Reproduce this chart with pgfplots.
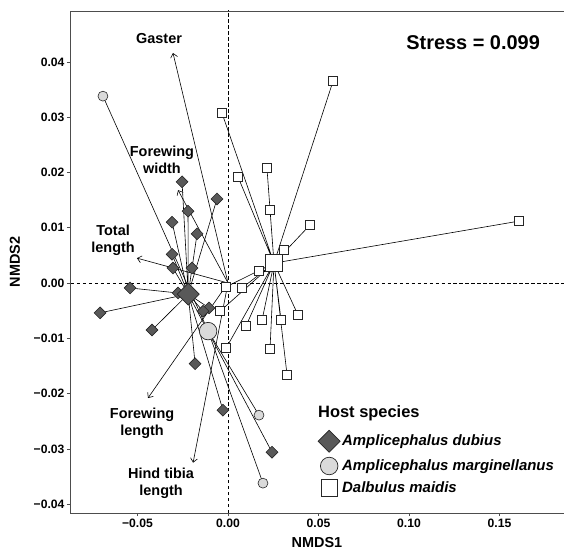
\documentclass[border=0pt]{standalone}
\usepackage{fontspec}
\setmainfont{Liberation Sans}
\usepackage{pgfplots}
\pgfplotsset{compat=1.18}
\usetikzlibrary{arrows.meta}
\definecolor{dubfill}{HTML}{595959}
\definecolor{marfill}{HTML}{DADADA}
\definecolor{framec}{HTML}{4D4D4D}
\definecolor{edgec}{HTML}{262626}

\begin{document}
\begin{tikzpicture}
\begin{axis}[
  scale only axis, width=494bp, height=502bp,
  xmin=-0.0873, xmax=0.1856, ymin=-0.0416, ymax=0.0492,
  axis line style={framec, line width=0.9pt},
  xtick={-0.05,0,0.05,0.10,0.15},
  xticklabels={−0.05,0.00,0.05,0.10,0.15},
  ytick={-0.04,-0.03,-0.02,-0.01,0,0.01,0.02,0.03,0.04},
  yticklabels={−0.04,−0.03,−0.02,−0.01,0.00,0.01,0.02,0.03,0.04},
  tick pos=left, tick align=outside, major tick length=3bp,
  tick style={framec, line width=0.6pt},
  ticklabel style={font=\bfseries\fontsize{12.2}{14}\selectfont, black},
  xticklabel style={yshift=1pt},
  yticklabel style={xshift=1pt},
  xlabel={NMDS1}, ylabel={NMDS2},
  label style={font=\bfseries\fontsize{14.5}{16}\selectfont},
  xlabel style={at={(axis description cs:0.5,-0.0598)}, anchor=center},
  ylabel style={at={(axis description cs:-0.1113,0.5)}, anchor=center},
  legend style={at={(axis cs:0.0497,-0.0266)}, anchor=north west, draw=none, fill=none,
    font=\bfseries\itshape\fontsize{15}{17}\selectfont, row sep=5pt, inner sep=0pt},
  legend cell align=left,
  clip=true,
]
% reference lines
\addplot[black, line width=0.55pt, dash pattern=on 3.5pt off 2.5pt, forget plot] coordinates {(0,-0.06) (0,0.06)};
\addplot[black, line width=0.55pt, dash pattern=on 3.5pt off 2.5pt, forget plot] coordinates {(-0.1,0) (0.2,0)};

% spider segments: Dalbulus maidis
\addplot[black, line width=0.6pt, line join=round, forget plot] coordinates {
(0.0254,0.0036) (-0.0033,0.0307) (0.0254,0.0036) (0.0055,0.0192) (0.0254,0.0036) (0.0215,0.0208)
(0.0254,0.0036) (0.0232,0.0132) (0.0254,0.0036) (0.0580,0.0365) (0.0254,0.0036) (0.0453,0.0105)
(0.0254,0.0036) (0.1608,0.0112) (0.0254,0.0036) (0.0309,0.0060) (0.0254,0.0036) (0.0171,0.0022)
(0.0254,0.0036) (-0.0011,-0.0007) (0.0254,0.0036) (0.0077,-0.0009) (0.0254,0.0036) (-0.0044,-0.0051)
(0.0254,0.0036) (0.0099,-0.0078) (0.0254,0.0036) (0.0188,-0.0067) (0.0254,0.0036) (0.0293,-0.0067)
(0.0254,0.0036) (0.0387,-0.0058) (0.0254,0.0036) (-0.0011,-0.0118) (0.0254,0.0036) (0.0232,-0.0119)
(0.0254,0.0036) (0.0326,-0.0166)};
% spider segments: Amplicephalus dubius
\addplot[black, line width=0.6pt, line join=round, forget plot] coordinates {
(-0.0220,-0.0020) (-0.0254,0.0183) (-0.0220,-0.0020) (-0.0061,0.0152) (-0.0220,-0.0020) (-0.0221,0.0130)
(-0.0220,-0.0020) (-0.0309,0.0110) (-0.0220,-0.0020) (-0.0171,0.0089) (-0.0220,-0.0020) (-0.0309,0.0052)
(-0.0220,-0.0020) (-0.0304,0.0027) (-0.0220,-0.0020) (-0.0199,0.0027) (-0.0220,-0.0020) (-0.0541,-0.0009)
(-0.0220,-0.0020) (-0.0707,-0.0054) (-0.0220,-0.0020) (-0.0420,-0.0085) (-0.0220,-0.0020) (-0.0182,-0.0146)
(-0.0220,-0.0020) (-0.0028,-0.0230) (-0.0220,-0.0020) (0.0243,-0.0306) (-0.0220,-0.0020) (-0.0105,-0.0045)
(-0.0220,-0.0020) (-0.0138,-0.0051) (-0.0220,-0.0020) (-0.0276,-0.0018)};
% spider segments: Amplicephalus marginellanus
\addplot[black, line width=0.6pt, line join=round, forget plot] coordinates {
(-0.0110,-0.0087) (-0.0691,0.0338) (-0.0110,-0.0087) (0.0171,-0.0239) (-0.0110,-0.0087) (0.0193,-0.0362)};

% trait vectors
\addplot[black, line width=0.6pt, -{Straight Barb[length=4pt,width=7pt]}, forget plot] coordinates {(0,0) (-0.0304,0.0416)};
\addplot[black, line width=0.6pt, -{Straight Barb[length=4pt,width=7pt]}, forget plot] coordinates {(0,0) (-0.0276,0.0168)};
\addplot[black, line width=0.6pt, -{Straight Barb[length=4pt,width=7pt]}, forget plot] coordinates {(0,0) (-0.0503,0.0045)};
\addplot[black, line width=0.6pt, -{Straight Barb[length=4pt,width=7pt]}, forget plot] coordinates {(0,0) (-0.0442,-0.0208)};
\addplot[black, line width=0.6pt, -{Straight Barb[length=4pt,width=7pt]}, forget plot] coordinates {(0,0) (-0.0193,-0.0325)};

% individual points
\addplot[only marks, mark=square*, mark size=4.5pt, mark options={fill=white, draw=edgec, line width=0.75pt}, forget plot] coordinates {
(-0.0033,0.0307) (0.0055,0.0192) (0.0215,0.0208) (0.0232,0.0132) (0.0580,0.0365) (0.0453,0.0105)
(0.1608,0.0112) (0.0309,0.0060) (0.0171,0.0022) (-0.0011,-0.0007) (0.0077,-0.0009) (-0.0044,-0.0051)
(0.0099,-0.0078) (0.0188,-0.0067) (0.0293,-0.0067) (0.0387,-0.0058) (-0.0011,-0.0118) (0.0232,-0.0119)
(0.0326,-0.0166)};
\addplot[only marks, mark=square*, mark size=4.2pt, mark options={rotate=45, fill=dubfill, draw=edgec, line width=0.6pt}, forget plot] coordinates {
(-0.0254,0.0183) (-0.0061,0.0152) (-0.0221,0.0130) (-0.0309,0.0110) (-0.0171,0.0089) (-0.0309,0.0052)
(-0.0304,0.0027) (-0.0199,0.0027) (-0.0541,-0.0009) (-0.0707,-0.0054) (-0.0420,-0.0085) (-0.0182,-0.0146)
(-0.0028,-0.0230) (0.0243,-0.0306) (-0.0105,-0.0045) (-0.0138,-0.0051) (-0.0276,-0.0018)};
\addplot[only marks, mark=*, mark size=5pt, mark options={fill=marfill, draw=edgec, line width=0.6pt}, forget plot] coordinates {
(-0.0691,0.0338) (0.0171,-0.0239) (0.0193,-0.0362)};

% centroids (also legend)
\addplot[only marks, mark=square*, mark size=7.8pt, mark options={rotate=45, fill=dubfill, draw=edgec, line width=0.7pt}] coordinates {(-0.0220,-0.0020)};
\addlegendentry{Amplicephalus dubius}
\addplot[only marks, mark=*, mark size=8.8pt, mark options={fill=marfill, draw=edgec, line width=0.7pt}] coordinates {(-0.0110,-0.0087)};
\addlegendentry{Amplicephalus marginellanus}
\addplot[only marks, mark=square*, mark size=8.3pt, mark options={fill=white, draw=edgec, line width=0.8pt}] coordinates {(0.0254,0.0036)};
\addlegendentry{Dalbulus maidis}

% labels
\node[font=\bfseries\fontsize{14.5}{17}\selectfont, align=center] at (axis cs:-0.0381,0.0443) {Gaster};
\node[font=\bfseries\fontsize{14.5}{17}\selectfont, align=center] at (axis cs:-0.0365,0.0222) {Forewing\\width};
\node[font=\bfseries\fontsize{14.5}{17}\selectfont, align=center] at (axis cs:-0.0635,0.0078) {Total\\length};
\node[font=\bfseries\fontsize{14.5}{17}\selectfont, align=center] at (axis cs:-0.0475,-0.0253) {Forewing\\length};
\node[font=\bfseries\fontsize{14.5}{17}\selectfont, align=center] at (axis cs:-0.0370,-0.0363) {Hind tibia\\length};
\node[font=\bfseries\fontsize{20}{23}\selectfont] at (axis cs:0.1354,0.0434) {Stress = 0.099};
\node[anchor=west, inner sep=0pt, font=\bfseries\fontsize{16.5}{19}\selectfont] at (axis cs:0.0497,-0.0235) {Host species};
\end{axis}
\pgfresetboundingbox
\path[use as bounding box] ([xshift=-70bp,yshift=-37bp]current axis.south west) rectangle ([yshift=11bp]current axis.north east);
\end{tikzpicture}
\end{document}
